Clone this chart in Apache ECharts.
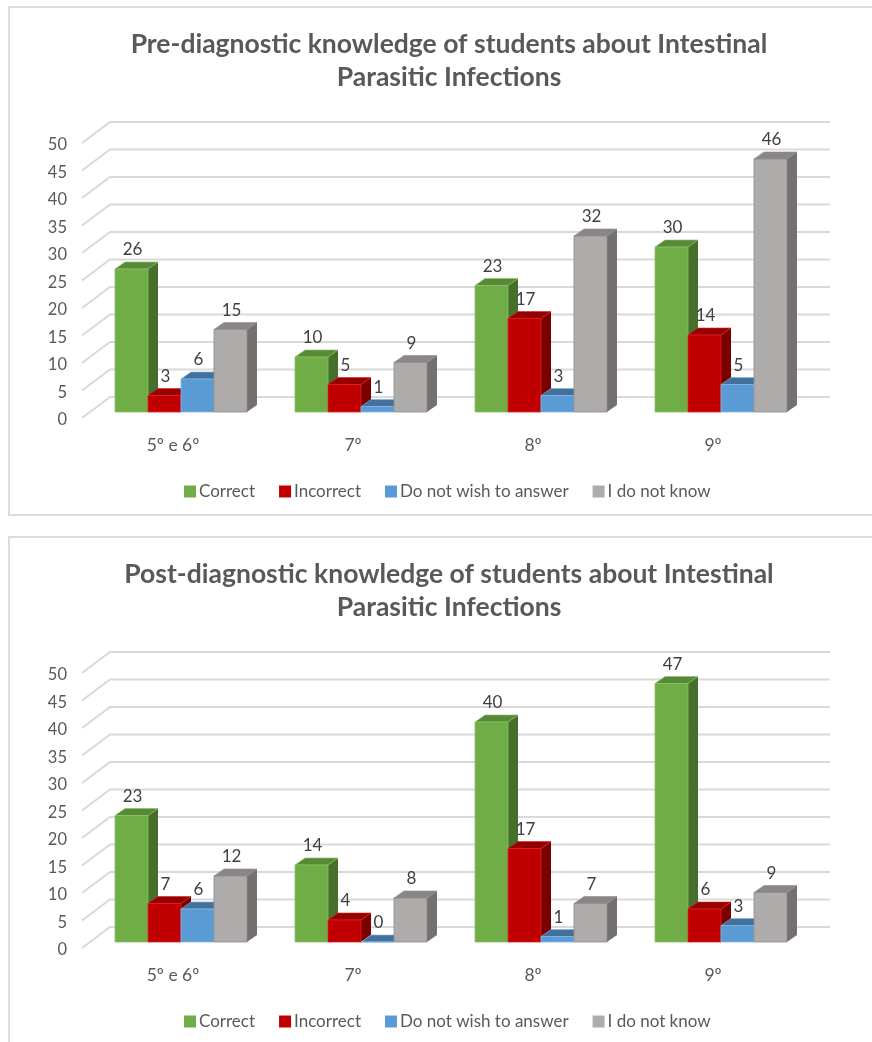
<!DOCTYPE html>
<html>
<head>
<meta charset="utf-8">
<script src="https://cdn.jsdelivr.net/npm/echarts@6/dist/echarts.min.js"></script>
<style>
  html, body { margin: 0; padding: 0; width: 872px; height: 1042px; overflow: hidden; background: #fff; }
  .frame { position: absolute; border: 2px solid #dcdcdc; box-sizing: border-box; }
  .chart { position: absolute; left: 0; width: 872px; }
</style>
</head>
<body>
<div class="frame" style="left:8px; top:6px; width:900px; height:510px;"></div>
<div class="frame" style="left:8px; top:536px; width:900px; height:540px;"></div>
<div id="pre" class="chart" style="top:0; height:530px;"></div>
<div id="post" class="chart" style="top:530px; height:512px;"></div>
<script>
// School grades surveyed
const grades = ['5º e 6º', '7º', '8º', '9º'];
const seriesNames = ['Correct', 'Incorrect', 'Do not wish to answer', 'I do not know'];

// Answers before the diagnostic
const preCorrect = [26, 10, 23, 30];
const preIncorrect = [3, 5, 17, 14];
const preNoAnswer = [6, 1, 3, 5];
const preDontKnow = [15, 9, 32, 46];

// Answers after the diagnostic
const postCorrect = [23, 14, 40, 47];
const postIncorrect = [7, 4, 17, 6];
const postNoAnswer = [6, 0, 1, 3];
const postDontKnow = [12, 8, 7, 9];

// Value axis ticks
const yTicks = [0, 5, 10, 15, 20, 25, 30, 35, 40, 45, 50];

const titlePre = 'Pre-diagnostic knowledge of students about Intestinal\nParasitic Infections';
const titlePost = 'Post-diagnostic knowledge of students about Intestinal\nParasitic Infections';

// Face colours of each box: front, top, side
const palette = [
  { front: '#70AD47', top: '#578A36', side: '#466F2B', edge: '#8CC168' },
  { front: '#C00000', top: '#960000', side: '#7A0000', edge: '#E02020' },
  { front: '#5B9BD5', top: '#41719C', side: '#3A6690', edge: '#86B6E2' },
  { front: '#AEABAB', top: '#8A8686', side: '#747070', edge: '#8F8B8B' }
];

const FONT = 'Lato, "Open Sans", sans-serif';
const DEPTH_X = 10, DEPTH_Y = -7;      // bar depth
const WALL_X = 28, WALL_Y = -21;       // back-wall offset

function wallSeries() {
  return {
    type: 'custom',
    silent: true,
    z: 1,
    data: yTicks.map(v => [0, v]),
    encode: { x: 0, y: 1 },
    renderItem: function (params, api) {
      const cs = params.coordSys;
      const y = api.coord([0, api.value(1)])[1];
      const fx = cs.x - 9, fy = y + 6;
      return {
        type: 'polyline',
        shape: { points: [[fx, fy], [fx + WALL_X, fy + WALL_Y], [cs.x + cs.width + 19, fy + WALL_Y]] },
        style: { stroke: '#d9d9d9', lineWidth: 2, fill: null }
      };
    }
  };
}

function boxSeries(name, values, k) {
  const c = palette[k];
  return {
    type: 'custom',
    name: name,
    z: 2 + k,
    itemStyle: { color: c.front },
    data: values.map((v, i) => [i, v]),
    encode: { x: 0, y: 1 },
    renderItem: function (params, api) {
      const idx = api.value(0), v = api.value(1);
      const top = api.coord([idx, v]);
      const base = api.coord([idx, 0]);
      const band = api.size([1, 0])[0];
      const bw = band * 0.1833;
      const x0 = top[0] - 2 * bw + k * bw;
      const yt = top[1], yb = base[1];
      return {
        type: 'group',
        children: [
          {
            type: 'polygon',
            shape: { points: [[x0 + bw, yt], [x0 + bw + DEPTH_X, yt + DEPTH_Y], [x0 + bw + DEPTH_X, yb + DEPTH_Y], [x0 + bw, yb]] },
            style: { fill: c.side }
          },
          {
            type: 'polygon',
            shape: { points: [[x0, yt], [x0 + DEPTH_X, yt + DEPTH_Y], [x0 + bw + DEPTH_X, yt + DEPTH_Y], [x0 + bw, yt]] },
            style: { fill: c.top, stroke: c.edge, lineWidth: 0.6 }
          },
          {
            type: 'rect',
            shape: { x: x0, y: yt, width: bw, height: yb - yt },
            style: { fill: c.front, stroke: c.edge, lineWidth: 0.8 }
          },
          {
            type: 'text',
            z2: 10,
            style: {
              x: x0 + bw / 2 + 1, y: yt - 19,
              text: String(v),
              align: 'center', verticalAlign: 'middle',
              fill: '#404040', font: '17px ' + FONT
            }
          }
        ]
      };
    }
  };
}

function buildOption(title, lists) {
  return {
    animation: false,
    title: {
      text: title,
      left: 444, top: 23, textAlign: 'center',
      textStyle: { fontFamily: FONT, fontSize: 26.5, fontWeight: 'bold', color: '#595959', lineHeight: 33 }
    },
    legend: {
      left: 184, top: 483, padding: 0,
      icon: 'rect', itemWidth: 12, itemHeight: 12, itemGap: 24,
      textStyle: { fontFamily: FONT, fontSize: 17, color: '#595959', padding: [0, 0, 0, -2] },
      data: seriesNames
    },
    grid: { left: 91, width: 720, top: 137, height: 275 },
    xAxis: {
      type: 'category',
      data: grades,
      axisLine: { show: false },
      axisTick: { show: false },
      axisLabel: { fontFamily: FONT, fontSize: 17.5, color: '#595959', margin: 24, padding: [0, 16, 0, 0] }
    },
    yAxis: {
      type: 'value',
      min: 0, max: 50, interval: 5,
      axisLine: { show: false },
      axisTick: { show: false },
      splitLine: { show: false },
      axisLabel: { fontFamily: FONT, fontSize: 16.5, color: '#595959', margin: 24, verticalAlign: 'top', lineHeight: 16 }
    },
    series: [wallSeries()].concat(lists.map((vals, k) => boxSeries(seriesNames[k], vals, k)))
  };
}

echarts.init(document.getElementById('pre'), null, { renderer: 'canvas' })
  .setOption(buildOption(titlePre, [preCorrect, preIncorrect, preNoAnswer, preDontKnow]));
echarts.init(document.getElementById('post'), null, { renderer: 'canvas' })
  .setOption(buildOption(titlePost, [postCorrect, postIncorrect, postNoAnswer, postDontKnow]));
</script>
</body>
</html>
